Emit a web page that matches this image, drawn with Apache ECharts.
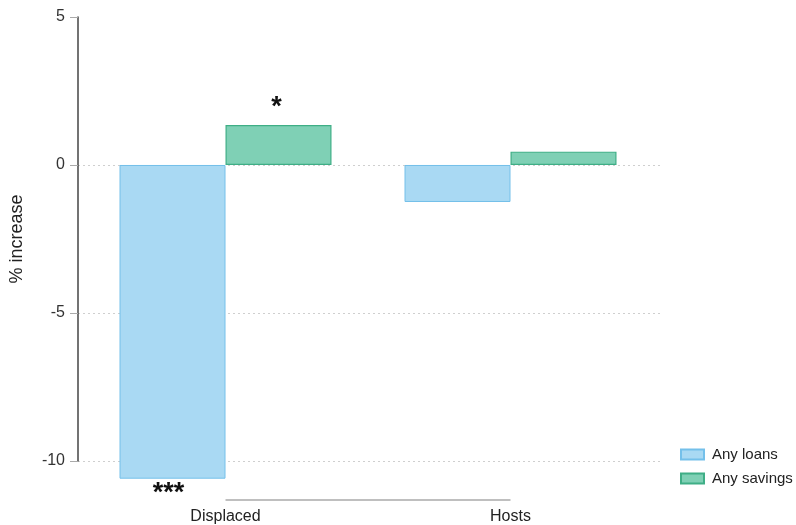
<!DOCTYPE html>
<html>
<head>
<meta charset="utf-8">
<script src="https://cdn.jsdelivr.net/npm/echarts@6/dist/echarts.min.js"></script>
<style>
  html, body { margin: 0; padding: 0; background: #fff; }
  #chart { width: 796px; height: 525px; }
</style>
</head>
<body>
<div id="chart"></div>
<script>
// Groups and estimated effects (% increase)
const categories = ['Displaced', 'Hosts'];
const loans = [-10.6, -1.25];
const savings = [1.35, 0.45];
// Significance markers per group
const loanStars = ['***', ''];
const savingStars = ['*', ''];
// Visible y scale (ticks) and full plotting range
const yTickMin = -10;
const yTickMax = 5;
const yTickStep = 5;
const yRangeMin = -11.32;

const FONT = '"Liberation Sans", Arial, Helvetica, sans-serif';
const chart = echarts.init(document.getElementById('chart'));

chart.setOption({
  animation: false,
  textStyle: { fontFamily: FONT },
  grid: [
    // bars
    { left: 83, width: 570, top: 17, bottom: 25 },
    // axis frame: y axis line, ticks, labels, dotted grid
    { left: 78, width: 582, top: 17, height: 444 }
  ],
  xAxis: [
    {
      gridIndex: 0,
      type: 'category',
      data: categories,
      axisLine: { show: false },
      axisTick: { show: false },
      axisLabel: { fontSize: 16, color: '#222', margin: 9, fontFamily: FONT }
    },
    { gridIndex: 1, type: 'value', min: 0, max: 1, show: false }
  ],
  yAxis: [
    { gridIndex: 0, type: 'value', min: yRangeMin, max: yTickMax, show: false },
    {
      gridIndex: 1,
      type: 'value',
      min: yTickMin,
      max: yTickMax,
      interval: yTickStep,
      name: '% increase',
      nameLocation: 'middle',
      nameGap: 52,
      nameTextStyle: { fontSize: 18, color: '#222', fontFamily: FONT },
      axisLine: { show: true, lineStyle: { color: '#444', width: 1.5 } },
      axisTick: { show: true, length: 8, lineStyle: { color: '#aaa' } },
      axisLabel: { fontSize: 16, color: '#333', margin: 13, fontFamily: FONT },
      splitLine: {
        show: true,
        showMaxLine: false,
        lineStyle: { type: [2, 3], color: '#cfcfcf', width: 1 }
      }
    }
  ],
  legend: {
    orient: 'vertical',
    left: 675,
    top: 442,
    itemWidth: 23,
    itemHeight: 10,
    itemGap: 9,
    icon: 'rect',
    data: ['Any loans', 'Any savings'],
    textStyle: { fontSize: 15, color: '#222', fontFamily: FONT, padding: [0, 0, 0, 3] }
  },
  series: [
    {
      name: 'Any loans',
      type: 'bar',
      xAxisIndex: 0,
      yAxisIndex: 0,
      data: loans,
      barWidth: 106,
      barGap: 0,
      itemStyle: { color: '#a9d9f3', borderColor: '#74c0ea', borderWidth: 1 },
      label: {
        show: true,
        position: 'bottom',
        distance: 1,
        offset: [-4, 0],
        fontSize: 27,
        fontWeight: 'bold',
        color: '#111',
        fontFamily: FONT,
        formatter: p => loanStars[p.dataIndex]
      }
    },
    {
      name: 'Any savings',
      type: 'bar',
      xAxisIndex: 0,
      yAxisIndex: 0,
      data: savings,
      barWidth: 106,
      barGap: 0,
      itemStyle: { color: '#7fd0b5', borderColor: '#3fae86', borderWidth: 1.2 },
      label: {
        show: true,
        position: 'top',
        distance: 4,
        offset: [-2, 0],
        fontSize: 27,
        fontWeight: 'bold',
        color: '#111',
        fontFamily: FONT,
        formatter: p => savingStars[p.dataIndex]
      }
    },
    {
      // short x baseline joining the two group centres
      type: 'line',
      xAxisIndex: 0,
      yAxisIndex: 0,
      data: categories.map(() => yRangeMin),
      symbol: 'none',
      clip: false,
      silent: true,
      lineStyle: { color: '#aaaaaa', width: 1.5 },
      z: 1
    }
  ]
});
</script>
</body>
</html>
